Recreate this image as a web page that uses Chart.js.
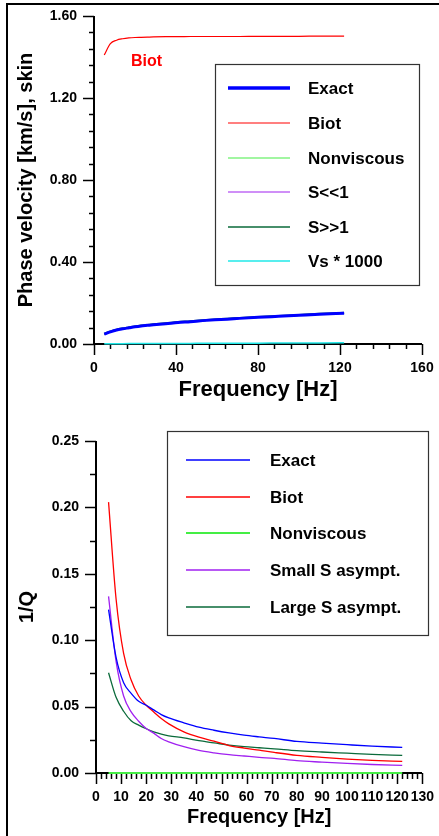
<!DOCTYPE html>
<html><head><meta charset="utf-8">
<script src="https://cdn.jsdelivr.net/npm/chart.js@4"></script>
<style>
html,body{margin:0;padding:0;background:#fff;width:439px;height:836px;overflow:hidden;}
#frame{position:absolute;left:6px;top:3px;width:460px;height:860px;border-top:2px solid #000;border-left:2px solid #000;z-index:2;pointer-events:none;}
#c1{position:absolute;left:0;top:0;}
#c2{position:absolute;left:0;top:410px;}
</style></head><body>
<div id="frame"></div>
<canvas id="c1" width="439" height="410"></canvas>
<canvas id="c2" width="439" height="426"></canvas>
<script>
// ---------- data ----------
const freqs = [5,8,11,14,17,20,23,26,29,35,41,47,53,59,65,71,80,90,100,110,122];

// phase velocity [km/s]
const velExact   = [0.048,0.059,0.068,0.074,0.079,0.084,0.088,0.091,0.094,0.099,0.105,0.109,0.114,0.118,0.121,0.125,0.130,0.135,0.140,0.145,0.150];
const velBiot    = [1.410,1.465,1.482,1.489,1.493,1.495,1.496,1.497,1.498,1.499,1.499,1.500,1.500,1.500,1.500,1.500,1.501,1.501,1.501,1.502,1.502];
const velNonvisc = [0.048,0.059,0.068,0.074,0.079,0.084,0.088,0.091,0.094,0.099,0.105,0.109,0.114,0.118,0.121,0.125,0.130,0.135,0.140,0.145,0.150];
const velSSmall  = [0.048,0.059,0.068,0.074,0.079,0.084,0.088,0.091,0.094,0.099,0.105,0.109,0.114,0.118,0.121,0.125,0.130,0.135,0.140,0.145,0.150];
const velSLarge  = [0.050,0.061,0.070,0.076,0.081,0.086,0.090,0.093,0.096,0.101,0.107,0.111,0.116,0.120,0.123,0.127,0.132,0.137,0.142,0.147,0.152];
const velVs1000  = [0.001,0.0013,0.0016,0.0018,0.0019,0.002,0.0021,0.0022,0.0023,0.0025,0.0028,0.003,0.0032,0.0034,0.0036,0.0038,0.0042,0.0046,0.005,0.0054,0.006];

// attenuation 1/Q
const invQExact   = [0.123,0.087,0.068,0.060,0.054,0.051,0.0475,0.044,0.0415,0.0378,0.0345,0.0322,0.0302,0.0285,0.0272,0.026,0.0238,0.0225,0.0213,0.0202,0.0193];
const invQBiot    = [0.204,0.131,0.090,0.070,0.058,0.051,0.046,0.041,0.037,0.031,0.027,0.024,0.0207,0.0188,0.0172,0.0155,0.0133,0.0118,0.0105,0.0095,0.0087];
const invQNonvisc = [0,0,0,0,0,0,0,0,0,0,0,0,0,0,0,0,0,0,0,0,0];
const invQSmallS  = [0.133,0.084,0.058,0.046,0.039,0.0335,0.030,0.026,0.0235,0.0198,0.017,0.0152,0.0138,0.0128,0.0118,0.011,0.0093,0.0082,0.0072,0.0064,0.0057];
const invQLargeS  = [0.0755,0.057,0.0465,0.0393,0.036,0.0333,0.031,0.0293,0.028,0.0265,0.0243,0.0227,0.021,0.0198,0.019,0.0182,0.0168,0.0158,0.0149,0.014,0.0132];

// tick labels
const topXTicks = [0,40,80,120,160];
const topYTicks = [0,0.4,0.8,1.2,1.6];
const botXTicks = [0,10,20,30,40,50,60,70,80,90,100,110,120,130];
const botYTicks = [0,0.05,0.10,0.15,0.20,0.25];

const topLabels = ['Exact','Biot','Nonviscous','S<<1','S>>1','Vs * 1000'];
const botLabels = ['Exact','Biot','Nonviscous','Small S asympt.','Large S asympt.'];

// ---------- styling ----------
const FONT = 'Arial, "Liberation Sans", Helvetica, sans-serif';
const C = {exact:'#0000ff', biot:'#ff0000', nonvisc:'#44ee44', small:'#a020f0', large:'#0a6a3a', vs:'#20e8e8'};

function pts(arr){ return freqs.map((f,i)=>({x:f,y:arr[i]})); }
function ds(label, arr, color, width){
  return {label, data:pts(arr), borderColor:color, backgroundColor:color, borderWidth:width,
          pointRadius:0, fill:false, clip:false, cubicInterpolationMode:'monotone'};
}

const axesPlugin = {
  id:'axesDecor',
  beforeDatasetsDraw(chart, args, o){
    const ctx = chart.ctx, xs = chart.scales.x, ys = chart.scales.y;
    const ca = chart.chartArea;
    ctx.save();
    ctx.strokeStyle = '#000';
    const by = Math.round(ca.bottom), lx = Math.round(ca.left);
    // axis lines
    ctx.lineWidth = 2;
    ctx.beginPath(); ctx.moveTo(lx, Math.round(ys.getPixelForValue(ys.max))); ctx.lineTo(lx, by); ctx.stroke();
    ctx.beginPath(); ctx.moveTo(lx, by); ctx.lineTo(Math.round(xs.getPixelForValue(xs.max)), by); ctx.stroke();
    ctx.lineWidth = 1.5;
    // x ticks
    const xv = xs.ticks.map(t=>t.value);
    const drawX = (v,len)=>{ const p = Math.round(xs.getPixelForValue(v))+0.5; ctx.beginPath(); ctx.moveTo(p,by); ctx.lineTo(p,by+len); ctx.stroke(); };
    xv.forEach((v,i)=>{ drawX(v,o.major); if(i<xv.length-1){ for(let k=1;k<o.xSub;k++) drawX(v+(xv[i+1]-v)*k/o.xSub,o.minor); } });
    // y ticks
    const yv = ys.ticks.map(t=>t.value);
    const drawY = (v,len)=>{ const p = Math.round(ys.getPixelForValue(v))+0.5; ctx.beginPath(); ctx.moveTo(lx,p); ctx.lineTo(lx-len,p); ctx.stroke(); };
    yv.forEach((v,i)=>{ drawY(v,o.major); if(i<yv.length-1){ for(let k=1;k<o.ySub;k++) drawY(v+(yv[i+1]-v)*k/o.ySub,o.minor); } });
    ctx.restore();
  },
  afterDraw(chart, args, o){
    const ctx = chart.ctx, xs = chart.scales.x, ys = chart.scales.y;
    ctx.save();
    // legend box
    const L = o.legend;
    ctx.fillStyle = '#fff';
    ctx.fillRect(L.x, L.y, L.w, L.h);
    ctx.strokeStyle = '#333'; ctx.lineWidth = 1.2;
    ctx.strokeRect(L.x+0.5, L.y+0.5, L.w, L.h);
    ctx.font = 'bold 17px ' + FONT; ctx.textBaseline = 'middle'; ctx.textAlign = 'left'; ctx.fillStyle = '#000';
    chart.data.datasets.forEach((d,i)=>{
      const yy = L.rows[i];
      ctx.strokeStyle = d.borderColor; ctx.lineWidth = d.legendWidth || d.borderWidth;
      ctx.beginPath(); ctx.moveTo(L.lx0, yy); ctx.lineTo(L.lx1, yy); ctx.stroke();
      ctx.fillText(d.label, L.tx, yy+1);
    });
    // annotation
    if (o.note){
      ctx.font = 'bold 16px ' + FONT; ctx.fillStyle = o.note.color;
      ctx.fillText(o.note.text, xs.getPixelForValue(o.note.x), ys.getPixelForValue(o.note.y));
    }
    ctx.restore();
  }
};

function scaleX(ticksArr, min, max, height, fontSize, pad, title, titleSize, titlePadBottom){
  return {type:'linear', min, max,
    afterBuildTicks: s=>{ s.ticks = ticksArr.map(v=>({value:v})); },
    afterFit: s=>{ s.height = height; },
    ticks:{autoSkip:false, maxRotation:0, minRotation:0, padding:pad, color:'#000', font:{family:FONT,size:fontSize,weight:'bold'}, callback:v=>String(v)},
    grid:{display:true, drawOnChartArea:false, drawTicks:true, tickLength:11, tickColor:'rgba(0,0,0,0)'},
    border:{display:false},
    title:{display:true, text:title, color:'#000', font:{family:FONT,size:titleSize,weight:'bold',lineHeight:1.2}, padding:{top:0,bottom:titlePadBottom}}
  };
}
function scaleY(ticksArr, min, max, width, fontSize, title, titlePadTop, digits){
  return {type:'linear', min, max,
    afterBuildTicks: s=>{ s.ticks = ticksArr.map(v=>({value:v})); },
    afterFit: s=>{ s.width = width; },
    ticks:{autoSkip:false, padding:6, color:'#000', font:{family:FONT,size:fontSize,weight:'bold'}, callback:v=>Number(v).toFixed(digits)},
    grid:{display:true, drawOnChartArea:false, drawTicks:true, tickLength:11, tickColor:'rgba(0,0,0,0)'},
    border:{display:false},
    title:{display:true, text:title, color:'#000', font:{family:FONT,size:20,weight:'bold',lineHeight:1.2}, padding:{top:titlePadTop,bottom:0}}
  };
}

// ---------- top chart ----------
const topDatasets = [
  Object.assign(ds(topLabels[0], velExact, C.exact, 3), {legendWidth:3.5}),
  ds(topLabels[1], velBiot, C.biot, 1.2),
  ds(topLabels[2], velNonvisc, C.nonvisc, 1.2),
  ds(topLabels[3], velSSmall, C.small, 1.2),
  ds(topLabels[4], velSLarge, C.large, 2),
  ds(topLabels[5], velVs1000, C.vs, 1.5)
];
topDatasets[4].legendWidth = 1.5;

new Chart(document.getElementById('c1'), {
  type:'line',
  data:{datasets:topDatasets},
  options:{
    responsive:false, animation:false, events:[],
    layout:{padding:{left:0,right:17,top:16,bottom:0}},
    plugins:{legend:{display:false}, tooltip:{enabled:false},
      axesDecor:{major:11, minor:5, xSub:5, ySub:5,
        legend:{x:215, y:64, w:204, h:221, lx0:228, lx1:290, tx:308, rows:[88,123,158,192,227,261]},
        note:{text:'Biot', x:18, y:1.38, color:'#ff0000'}}},
    scales:{
      x: scaleX(topXTicks, 0, 160, 66, 14, 5, 'Frequency [Hz]', 22, 7),
      y: scaleY(topYTicks, 0, 1.6, 94, 14, 'Phase velocity [km/s], skin', 14, 2)
    }
  },
  plugins:[axesPlugin]
});

// ---------- bottom chart ----------
const botDatasets = [
  ds(botLabels[0], invQExact, C.exact, 1.3),
  ds(botLabels[1], invQBiot, C.biot, 1.3),
  ds(botLabels[2], invQNonvisc, C.nonvisc, 2.2),
  ds(botLabels[3], invQSmallS, C.small, 1.3),
  ds(botLabels[4], invQLargeS, C.large, 1.3)
];
botDatasets[2].legendWidth = 2;

new Chart(document.getElementById('c2'), {
  type:'line',
  data:{datasets:botDatasets},
  options:{
    responsive:false, animation:false, events:[],
    layout:{padding:{left:0,right:13,top:31,bottom:0}},
    plugins:{legend:{display:false}, tooltip:{enabled:false},
      axesDecor:{major:11, minor:6, xSub:5, ySub:2,
        legend:{x:167, y:21, w:261, h:204, lx0:186, lx1:250, tx:270, rows:[50,87,123,160,197]}}},
    scales:{
      x: scaleX(botXTicks, 0, 130, 63, 14, 5, 'Frequency [Hz]', 20, 7),
      y: scaleY(botYTicks, 0, 0.25, 96, 14, '1/Q', 15, 2)
    }
  },
  plugins:[axesPlugin]
});
</script>
</body></html>
